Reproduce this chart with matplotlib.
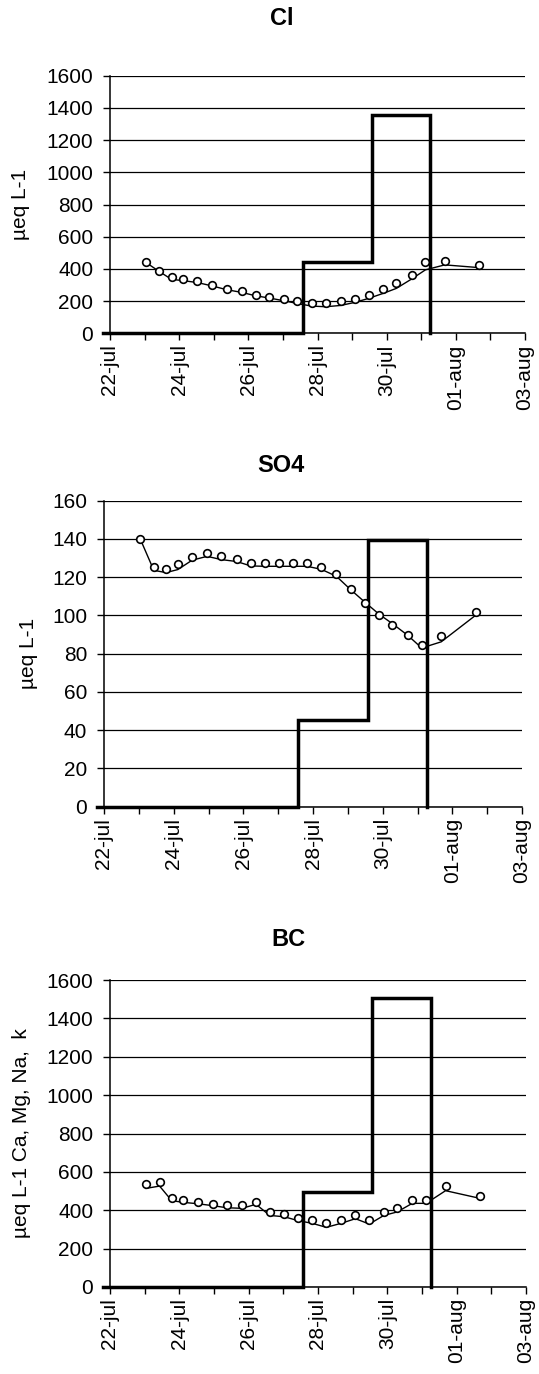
import matplotlib
matplotlib.use("Agg")
import matplotlib.pyplot as plt
from matplotlib.ticker import MultipleLocator

plt.rcParams["font.family"] = ["Liberation Sans", "DejaVu Sans"]

# sample times, in days of July (32 = 01-aug)
sample_days = [23.04, 23.43, 23.78, 24.12, 24.53, 24.96, 25.37, 25.81, 26.21, 26.61,
               27.03, 27.42, 27.83, 28.24, 28.67, 29.08, 29.48, 29.90, 30.28, 30.72,
               31.12, 31.68, 32.67]

# input step (edges in days, level per interval)
step_edges = [21.8, 27.57, 29.57, 31.26]

cl_obs = [440, 390, 350, 337, 325, 300, 277, 265, 237, 227, 215, 202, 187, 187,
          202, 215, 237, 277, 315, 362, 440, 452, 427]
cl_model = [440, 383, 335, 327, 315, 294, 271, 254, 233, 219, 202, 185, 169, 165,
            173, 192, 217, 248, 279, 337, 394, 425, 408]
cl_input = [0, 440, 1355]

so4_obs = [140, 125.4, 124.1, 126.8, 130.8, 132.7, 130.9, 129.5, 127.6, 127.6,
           127.6, 127.6, 127.6, 125.5, 121.5, 113.9, 106.7, 100.3, 95.1, 89.8,
           84.6, 89.0, 101.7]
so4_model = [140, 123.6, 122.4, 124.0, 128.9, 130.9, 129.2, 128.2, 125.9, 125.7,
             125.7, 125.7, 125.7, 124.1, 120.5, 113.5, 107.1, 100.6, 95.7, 89.6,
             83.0, 86.2, 100.1]
so4_input = [0, 45.5, 139.5]

bc_obs = [537, 547, 462, 453, 445, 434, 427, 427, 445, 391, 382, 360, 349, 332,
          349, 373, 349, 392, 413, 455, 455, 528, 476]
bc_model = [514, 526, 450, 441, 434, 424, 413, 410, 431, 373, 366, 346, 332, 311,
            332, 356, 328, 373, 391, 436, 436, 502, 462]
bc_input = [0, 497, 1504]

date_ticks = [22, 24, 26, 28, 30, 32, 34]
date_labels = ["22-jul", "24-jul", "26-jul", "28-jul", "30-jul", "01-aug", "03-aug"]

W, H = 539, 1374
fig = plt.figure(figsize=(W / 100, H / 100), dpi=100)


def px_rect(left, top, right, bottom):
    return [left / W, 1 - bottom / H, (right - left) / W, (bottom - top) / H]


panels = [
    # title, ylabel, obs, model, input, ymax, ystep, rect(px), title pos, ylabel x
    ("Cl", "µeq L-1", cl_obs, cl_model, cl_input, 1600, 200,
     (110, 75.7, 525, 333.3), (282, 18.5), 21),
    ("SO4", "µeq L-1", so4_obs, so4_model, so4_input, 160, 20,
     (104, 500.7, 522, 806.7), (281, 466), 28),
    ("BC", "µeq L-1 Ca, Mg, Na,  k", bc_obs, bc_model, bc_input, 1600, 200,
     (110, 980, 526, 1287), (288, 939), 22),
]

for title, ylabel, obs, model, inp, ymax, ystep, rect, tpos, ylx in panels:
    ax = fig.add_axes(px_rect(*rect))
    ax.set_xlim(22, 34)
    ax.set_ylim(0, ymax)

    ax.plot(step_edges, inp + [0], drawstyle="steps-post", color="black",
            lw=2.5, solid_joinstyle="miter", clip_on=False, zorder=4)
    ax.plot(sample_days, model, color="black", lw=1.0, zorder=3)
    ax.plot(sample_days, obs, linestyle="none", marker="o", markersize=5.5,
            markerfacecolor="white", markeredgecolor="black", mew=1.2, zorder=5)

    ax.yaxis.set_major_locator(MultipleLocator(ystep))
    ax.set_xticks(date_ticks)
    ax.set_xticklabels(date_labels, rotation=90)
    ax.xaxis.set_minor_locator(MultipleLocator(1))
    ax.tick_params(axis="x", which="both", direction="out", length=5, width=1,
                   pad=3, labelsize=15)
    ax.tick_params(axis="y", direction="out", length=5, width=1, pad=7,
                   labelsize=15)
    ax.grid(axis="y", color="black", lw=0.9)
    ax.set_axisbelow(True)
    for side in ("top", "right"):
        ax.spines[side].set_visible(False)
    for side in ("left", "bottom"):
        ax.spines[side].set_linewidth(1.1)

    cy = (rect[1] + rect[3]) / 2
    fig.text(ylx / W, 1 - cy / H, ylabel, rotation=90, ha="center", va="center",
             fontsize=15)
    fig.text(tpos[0] / W, 1 - tpos[1] / H, title, ha="center", va="center",
             fontsize=17, fontweight="bold")

fig.savefig("out.png", dpi=100)
